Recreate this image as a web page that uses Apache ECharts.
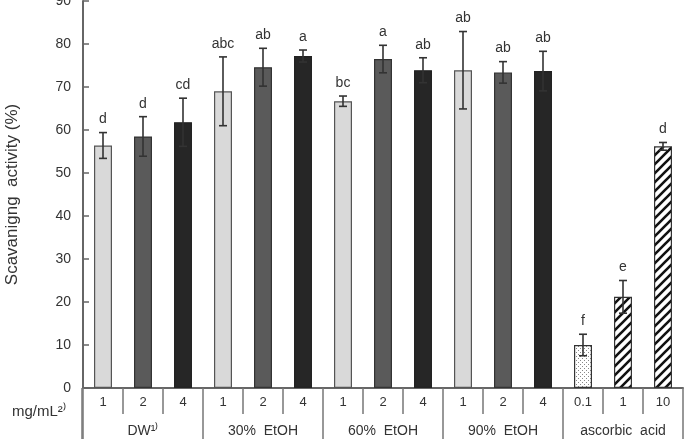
<!DOCTYPE html>
<html>
<head>
<meta charset="utf-8">
<script src="https://cdn.jsdelivr.net/npm/echarts@6/dist/echarts.min.js"></script>
<style>
  html, body { margin: 0; padding: 0; background: #fff; }
  #chart { width: 684px; height: 439px; }
</style>
</head>
<body>
<div id="chart"></div>
<script>
const doses = ['1', '2', '4', '1', '2', '4', '1', '2', '4', '1', '2', '4', '0.1', '1', '10']
const groups = ['DW¹⁾', '30%  EtOH', '60%  EtOH', '90%  EtOH', 'ascorbic  acid']
const values = [56.4, 58.5, 61.8, 69.0, 74.6, 77.2, 66.7, 76.5, 73.9, 73.9, 73.4, 73.7, 10.0, 21.2, 56.2]
const errors = [3.0, 4.6, 5.6, 8.0, 4.4, 1.4, 1.2, 3.2, 2.9, 9.0, 2.5, 4.6, 2.5, 3.8, 0.9]
const letters = ['d', 'd', 'cd', 'abc', 'ab', 'a', 'bc', 'a', 'ab', 'ab', 'ab', 'ab', 'f', 'e', 'd']
const fills = ['light', 'mid', 'dark', 'light', 'mid', 'dark', 'light', 'mid', 'dark', 'light', 'mid', 'dark', 'dots', 'hatch', 'hatch']
const yTicks = [0, 10, 20, 30, 40, 50, 60, 70, 80, 90]

// pattern tiles for ascorbic acid bars
const makeHatch = () => {
  const c = document.createElement('canvas')
  c.width = 9; c.height = 9
  const g = c.getContext('2d')
  g.fillStyle = '#fff'
  g.fillRect(0, 0, 9, 9)
  g.strokeStyle = '#111'
  g.lineWidth = 2.6
  g.beginPath()
  g.moveTo(-2, 11); g.lineTo(11, -2)
  g.moveTo(-2, 2); g.lineTo(2, -2)
  g.moveTo(7, 11); g.lineTo(11, 7)
  g.stroke()
  return c
}
const makeDots = () => {
  const c = document.createElement('canvas')
  c.width = 4; c.height = 4
  const g = c.getContext('2d')
  g.fillStyle = '#fff'
  g.fillRect(0, 0, 4, 4)
  g.fillStyle = '#888'
  g.fillRect(0, 0, 1, 1)
  g.fillRect(2, 2, 1, 1)
  return c
}

const fillStyles = {
  light: {color: '#d9d9d9', borderColor: '#555'},
  mid: {color: '#5a5a5a', borderColor: '#333'},
  dark: {color: '#262626', borderColor: '#222'},
  dots: {color: {image: makeDots(), repeat: 'repeat'}, borderColor: '#333'},
  hatch: {color: {image: makeHatch(), repeat: 'repeat'}, borderColor: '#333'}
}

const myChart = echarts.init(document.getElementById('chart'))
const font = 'Liberation Sans, Arial, sans-serif'

const option = {
  animation: false,
  grid: {left: 83, right: 1, top: 1, bottom: 51, outerBoundsMode: 'none', containLabel: false},
  xAxis: [
    {
      type: 'category',
      data: doses,
      axisLine: {lineStyle: {color: '#666', width: 2}},
      axisTick: {show: true, interval: 0, length: 26, lineStyle: {color: '#777', width: 1.5}},
      axisLabel: {margin: 8, color: '#333', fontSize: 13, fontFamily: font}
    },
    {
      type: 'category',
      data: groups,
      position: 'bottom',
      axisLine: {show: false},
      axisTick: {show: true, interval: 0, length: 51, lineStyle: {color: '#777', width: 1.5}},
      axisLabel: {margin: 36, color: '#333', fontSize: 14, fontFamily: font}
    }
  ],
  yAxis: {
    type: 'value',
    min: yTicks[0],
    max: yTicks[yTicks.length - 1],
    interval: 10,
    name: 'Scavanigng  activity (%)',
    nameLocation: 'middle',
    nameGap: 62,
    nameTextStyle: {color: '#333', fontSize: 17, fontFamily: font},
    splitLine: {show: false},
    axisLine: {show: true, lineStyle: {color: '#666', width: 2}},
    axisTick: {show: true, inside: true, length: 6, lineStyle: {color: '#666', width: 1.5}},
    axisLabel: {margin: 12, color: '#333', fontSize: 14, fontFamily: font}
  },
  graphic: [
    {
      type: 'text',
      left: 12,
      top: 404,
      style: {text: 'mg/mL²⁾', fill: '#333', fontSize: 15, fontFamily: font}
    },
    {
      type: 'line',
      shape: {x1: 82, y1: 388, x2: 82, y2: 439},
      style: {stroke: '#777', lineWidth: 1.5}
    }
  ],
  series: [
    {
      type: 'bar',
      barWidth: 18,
      data: values.map((v, i) => ({
        value: v,
        itemStyle: {...fillStyles[fills[i]], borderWidth: 1.2}
      }))
    },
    {
      type: 'custom',
      z: 5,
      data: values.map((v, i) => [i, v, errors[i]]),
      renderItem: (params, api) => {
        const i = api.value(0)
        const v = api.value(1)
        const e = api.value(2)
        const top = api.coord([i, v + e])
        const bot = api.coord([i, v - e])
        const stroke = {stroke: '#333', lineWidth: 1.6}
        return {
          type: 'group',
          children: [
            {type: 'line', shape: {x1: top[0], y1: top[1], x2: bot[0], y2: bot[1]}, style: stroke},
            {type: 'line', shape: {x1: top[0] - 4, y1: top[1], x2: top[0] + 4, y2: top[1]}, style: stroke},
            {type: 'line', shape: {x1: bot[0] - 4, y1: bot[1], x2: bot[0] + 4, y2: bot[1]}, style: stroke},
            {
              type: 'text',
              style: {
                text: letters[params.dataIndex],
                x: top[0],
                y: top[1] - 6,
                textAlign: 'center',
                textVerticalAlign: 'bottom',
                fill: '#333',
                fontSize: 14,
                fontFamily: font
              }
            }
          ]
        }
      }
    }
  ]
}

option && myChart.setOption(option)
</script>
</body>
</html>
